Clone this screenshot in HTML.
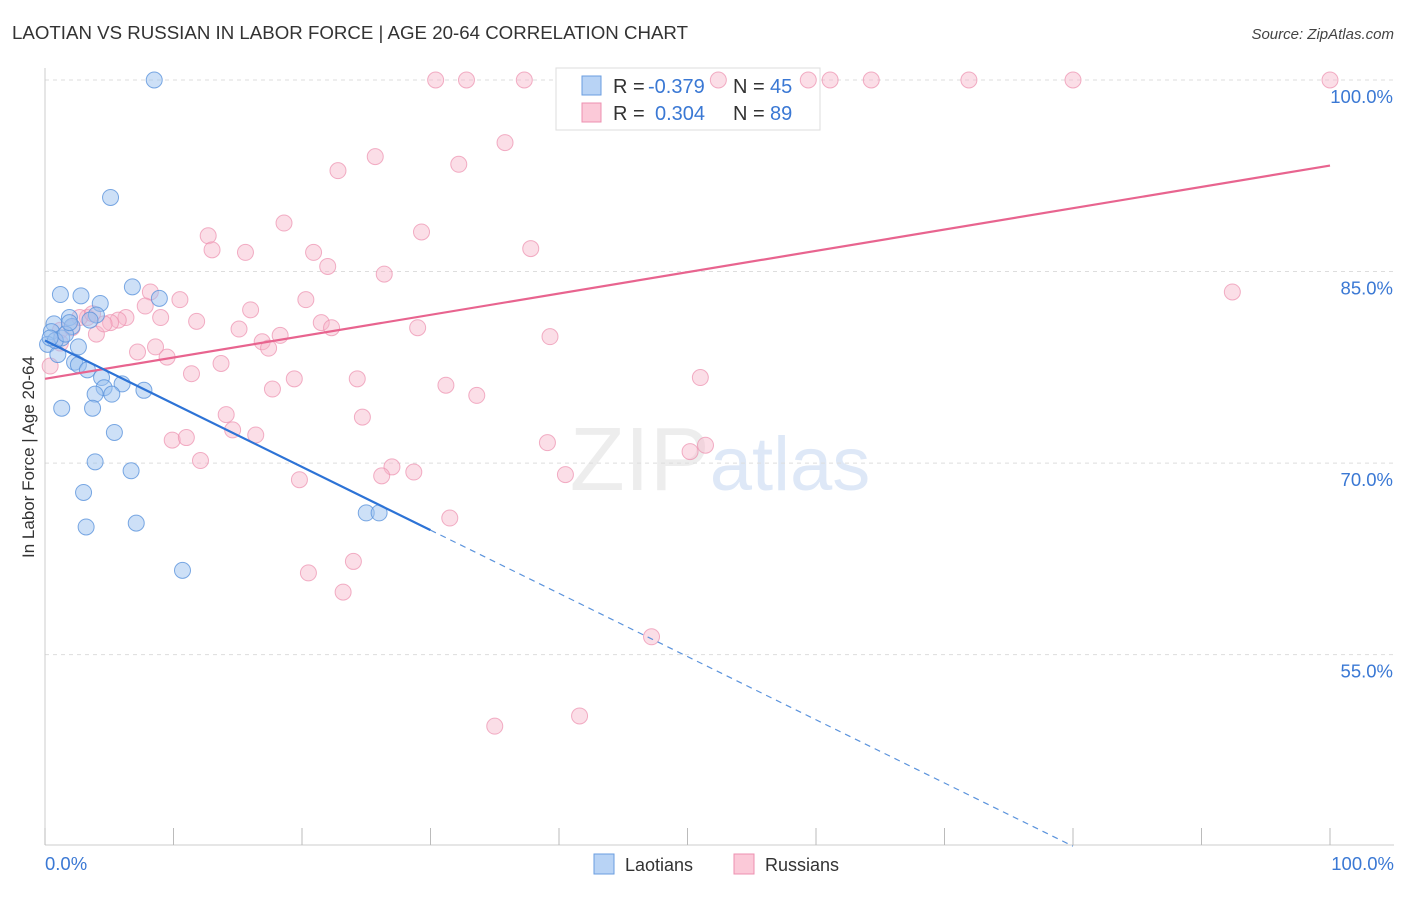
<!DOCTYPE html>
<html><head><meta charset="utf-8"><style>
body{margin:0;background:#fff;font-family:"Liberation Sans",sans-serif;}
svg text{font-family:"Liberation Sans",sans-serif;}
</style></head><body>
<svg id="chart" width="1406" height="892" xmlns="http://www.w3.org/2000/svg">
<text x="12" y="39" font-size="18" fill="#333" textLength="676" lengthAdjust="spacingAndGlyphs">LAOTIAN VS RUSSIAN IN LABOR FORCE | AGE 20-64 CORRELATION CHART</text>
<text x="1394" y="39" font-size="15" fill="#444" text-anchor="end" font-style="italic">Source: ZipAtlas.com</text>
<text x="720" y="490" font-size="90" text-anchor="middle" fill="#000" fill-opacity="0.07" font-family="Liberation Serif">ZIP<tspan fill="#4a7fd0" fill-opacity="0.18" font-family="Liberation Sans" font-size="76">atlas</tspan></text>
<g id="grid"></g>
<g id="axes"></g>
<g>
<rect x="556" y="68" width="264" height="62" fill="#fff" stroke="#ddd"/>
<rect x="582" y="76" width="19" height="19" fill="#b8d3f5" stroke="#6a9ee0"/>
<rect x="582" y="103" width="19" height="19" fill="#fbc9d8" stroke="#ee90b0"/>
<text x="613" y="93" font-size="20" fill="#333">R =</text>
<text x="648" y="93" font-size="20" fill="#3a78d4">-0.379</text>
<text x="733" y="93" font-size="20" fill="#333">N =</text>
<text x="770" y="93" font-size="20" fill="#3a78d4">45</text>
<text x="613" y="120" font-size="20" fill="#333">R =</text>
<text x="655" y="120" font-size="20" fill="#3a78d4">0.304</text>
<text x="733" y="120" font-size="20" fill="#333">N =</text>
<text x="770" y="120" font-size="20" fill="#3a78d4">89</text>
</g>
<g id="marks"></g>
<text transform="translate(34,457) rotate(-90)" font-size="17" fill="#333" text-anchor="middle">In Labor Force | Age 20-64</text>
<g>
<rect x="594" y="854" width="20" height="20" fill="#b8d3f5" stroke="#6a9ee0"/>
<text x="625" y="871" font-size="18" fill="#333">Laotians</text>
<rect x="734" y="854" width="20" height="20" fill="#fbc9d8" stroke="#ee90b0"/>
<text x="765" y="871" font-size="18" fill="#333">Russians</text>
</g>
</svg>
<script>
const yTicks=[55,70,85,100];
const yTickLabels=["55.0%","70.0%","85.0%","100.0%"];
const xTicks=[0,10,20,30,40,50,60,70,80,90,100];
const blueX=[8.5,5.1,6.8,8.9,1.2,2.8,4.3,1.9,4.0,0.7,0.5,1.3,0.2,2.6,1.0,2.3,2.6,3.3,4.4,6.0,4.6,3.9,5.2,7.7,1.3,3.7,5.4,3.9,6.7,3.0,3.2,7.1,10.7,25.0,26.0,2.1,0.8,1.6,0.4,3.5,1.9];
const blueY=[100,90.8,83.8,82.9,83.2,83.1,82.5,81.4,81.6,80.9,80.3,79.8,79.3,79.1,78.5,77.9,77.7,77.3,76.7,76.2,75.9,75.4,75.4,75.7,74.3,74.3,72.4,70.1,69.4,67.7,65.0,65.3,61.6,66.1,66.1,80.7,79.6,80.1,79.8,81.2,81.0];
const pinkX=[30.4,32.8,37.3,52.4,59.4,61.1,64.3,71.9,80.0,100,35.8,25.7,32.2,22.8,18.6,12.7,29.3,13.0,15.6,20.9,37.8,22.0,26.4,8.2,10.5,20.3,16.0,7.8,9.0,11.8,21.5,22.3,15.1,29.0,39.3,92.4,18.3,16.9,17.4,4.0,6.3,5.7,5.1,3.3,4.6,1.2,2.1,7.2,8.6,9.5,13.7,11.4,19.4,24.3,31.2,33.6,17.7,51.0,14.1,24.7,14.6,9.9,11.0,16.4,39.1,50.2,51.4,12.1,27.0,28.7,26.2,40.5,19.8,31.5,24.0,20.5,23.2,47.2,35.0,41.6,0.4,2.7,3.7,1.2];
const pinkY=[100,100,100,100,100,100,100,100,100,100,95.1,94.0,93.4,92.9,88.8,87.8,88.1,86.7,86.5,86.5,86.8,85.4,84.8,83.4,82.8,82.8,82.0,82.3,81.4,81.1,81.0,80.6,80.5,80.6,79.9,83.4,80.0,79.5,79.0,80.1,81.4,81.2,81.0,81.4,80.9,80.4,80.6,78.7,79.1,78.3,77.8,77.0,76.6,76.6,76.1,75.3,75.8,76.7,73.8,73.6,72.6,71.8,72.0,72.2,71.6,70.9,71.4,70.2,69.7,69.3,69.0,69.1,68.7,65.7,62.3,61.4,59.9,56.4,49.4,50.2,77.6,81.4,81.7,79.4];
const blueLine=[[0,79.6],[30,64.75]];
const blueDash=[[30,64.75],[80,40]];
const pinkLine=[[0,76.6],[100,93.3]];
const NS="http://www.w3.org/2000/svg";
const X=v=>45+v*12.85, Y=v=>80+(100-v)*12.77;
function mk(t,a,p){const e=document.createElementNS(NS,t);for(const k in a)e.setAttribute(k,a[k]);p.appendChild(e);return e;}
const grid=document.getElementById('grid'),axes=document.getElementById('axes'),marks=document.getElementById('marks');
yTicks.forEach((t,i)=>{
 const l=mk('line',{x1:45,x2:1394,y1:Y(t),y2:Y(t),stroke:'#ddd','stroke-dasharray':'4,4'},grid);
 
 
 const tx=mk('text',{x:1393,y:Y(t)+23,'font-size':18.5,fill:'#3a78d4','text-anchor':'end'},axes);
 tx.textContent=yTickLabels[i];
 
 
});
mk('line',{x1:45,x2:45,y1:68,y2:845,stroke:'#ccc'},axes);
mk('line',{x1:45,x2:1394,y1:845,y2:845,stroke:'#ccc'},axes);
xTicks.forEach(t=>{const l=mk('line',{x1:X(t),x2:X(t),y1:828,y2:845,stroke:'#bbb'},axes);
 
 });
let a=mk('text',{x:45,y:870,'font-size':18.5,fill:'#3a78d4'},axes);a.textContent='0.0%';


a=mk('text',{x:1394,y:870,'font-size':18.5,fill:'#3a78d4','text-anchor':'end'},axes);a.textContent='100.0%';


pinkX.forEach((x,i)=>{const c=mk('circle',{cx:X(x),cy:Y(pinkY[i]),r:8,fill:'#f7b6ca','fill-opacity':0.45,stroke:'#ec8fae','stroke-opacity':0.7},marks);
 
 });
blueX.forEach((x,i)=>{const c=mk('circle',{cx:X(x),cy:Y(blueY[i]),r:8,fill:'#9cc2ef','fill-opacity':0.5,stroke:'#5b93dc','stroke-opacity':0.8},marks);
 
 });
function ln(p,s,w,d,n){const l=mk('line',{x1:X(p[0][0]),y1:Y(p[0][1]),x2:X(p[1][0]),y2:Y(p[1][1]),stroke:s,'stroke-width':w},marks);if(d)l.setAttribute('stroke-dasharray',d);
 
 }
ln(pinkLine,'#e8648f',2.2,null,'russian-trend-line');
ln(blueLine,'#2d73d6',2.2,null,'laotian-trend-line');
ln(blueDash,'#5b93dc',1.2,'6,5','laotian-trend-extension');
</script>
</body></html>
